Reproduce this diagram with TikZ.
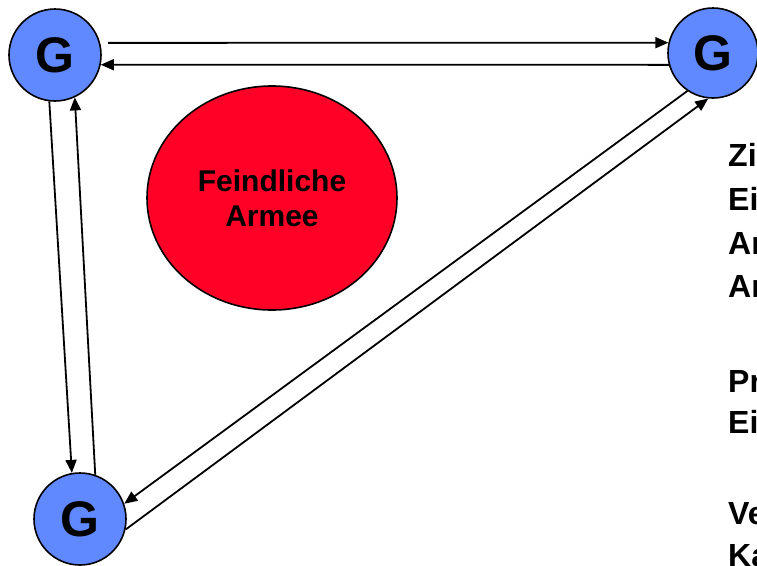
\documentclass[tikz,border=0pt]{standalone}
\usepackage{fontspec}
\setmainfont{Liberation Sans}
\usetikzlibrary{arrows.meta,shapes.geometric}
\definecolor{gblue}{RGB}{97,137,255}
\definecolor{fred}{RGB}{255,0,39}
\tikzset{
  gnode/.style={circle, draw=black, line width=1.6pt, fill=gblue, minimum size=92pt, inner sep=0pt, font=\fontsize{50}{50}\selectfont\bfseries},
  arr/.style={line width=1.8pt, -{Triangle[length=13pt,width=11pt]}},
  side/.style={anchor=base west, inner sep=0pt, font=\fontsize{32}{32}\selectfont\bfseries}
}
\begin{document}
\begin{tikzpicture}[x=1pt,y=-1pt]
\useasboundingbox (0,0) rectangle (757,565);
\node[gnode] (tl) at (55,55) {G};
\node[gnode, minimum size=90pt] (tr) at (713,53) {G};
\node[gnode] (bl) at (80,519) {G};
\node[ellipse, draw=black, line width=1.6pt, fill=fred, minimum width=250pt, minimum height=224pt, inner sep=0pt, align=center, font=\fontsize{30}{35}\selectfont\bfseries] (fa) at (272,198) {Feindliche\\Armee};

\draw[arr] ([xshift=8pt]tl.15) -- (tr.167);
\draw[arr] (tr.195) -- (tl.-12);
\draw[arr] (tl.-97) -- (bl.100);
\draw[arr] (bl.71) -- (tl.-65);
\draw[arr] (tr.236) -- (bl.19);
\draw[arr] (bl.-13) -- (tr.264);

\node[side] (t1) at (728,166) {Zi};
\node[side] (t2) at (728,210) {Ei};
\node[side] (t3) at (728,254) {Ar};
\node[side] (t4) at (728,297) {Ar};
\node[side] (t5) at (728,392) {Pr};
\node[side] (t6) at (728,433) {Ei};
\node[side] (t7) at (728,524) {Ve};
\node[side] (t8) at (728,566) {Ka};
\end{tikzpicture}
\end{document}
